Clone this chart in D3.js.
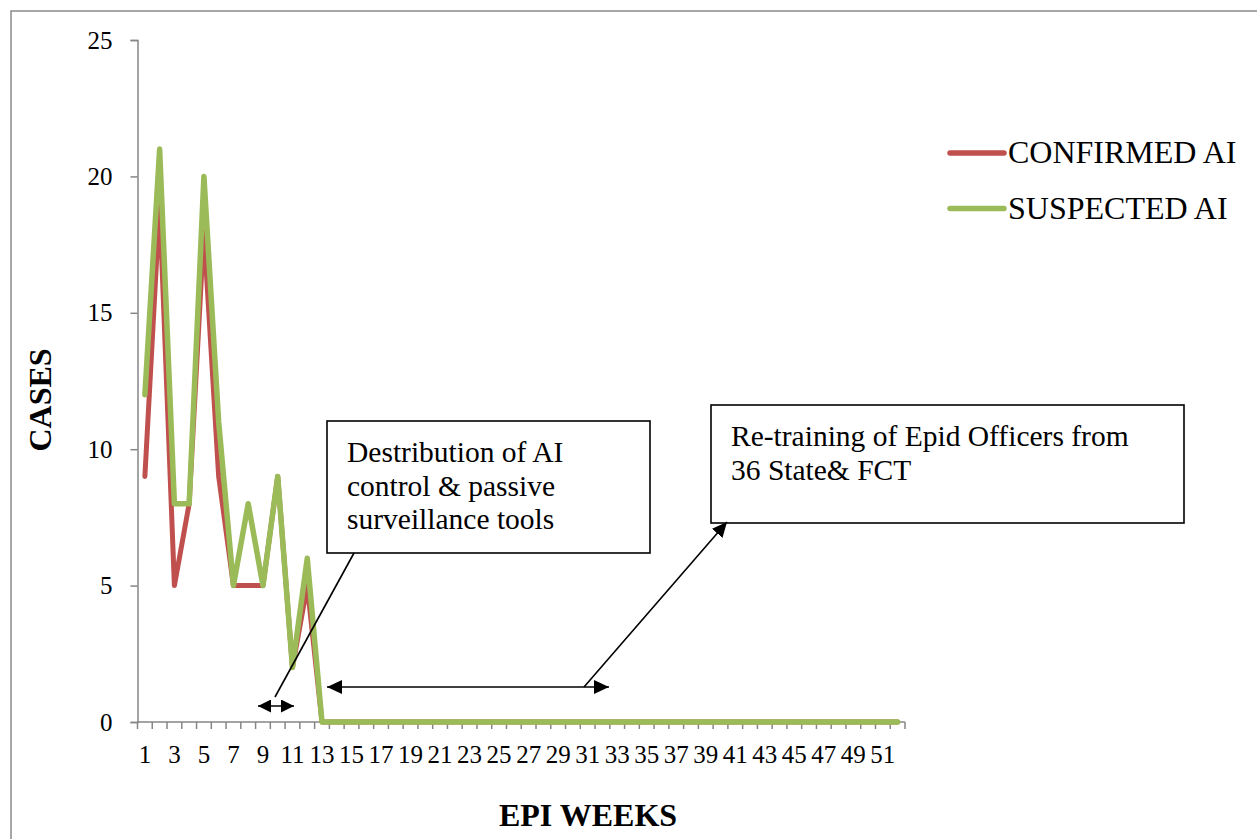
<!DOCTYPE html>
<html><head><meta charset="utf-8">
<script src="https://cdn.jsdelivr.net/npm/d3@7"></script>
<style>
html,body{margin:0;padding:0;background:#fff;}
svg{display:block;}
text{font-family:"Liberation Serif","Times New Roman",serif;fill:#000;}
</style></head>
<body>
<script>
const weeks = d3.range(1, 53);
const confirmed = [9,19,5,8,18,9,5,5,5,9,2,5,0,0,0,0,0,0,0,0,0,0,0,0,0,0,0,0,0,0,0,0,0,0,0,0,0,0,0,0,0,0,0,0,0,0,0,0,0,0,0,0];
const suspected = [12,21,8,8,20,11,5,8,5,9,2,6,0,0,0,0,0,0,0,0,0,0,0,0,0,0,0,0,0,0,0,0,0,0,0,0,0,0,0,0,0,0,0,0,0,0,0,0,0,0,0,0];
const yTicks = [0,5,10,15,20,25];
const seriesNames = ["CONFIRMED AI","SUSPECTED AI"];
const seriesColors = ["#C0504D","#9BBB59"];
const xTitle = "EPI WEEKS";
const yTitle = "CASES";
const note1 = ["Destribution of AI","control & passive","surveillance tools"];
const note2 = ["Re-training of Epid Officers from","36 State& FCT"];

const W = 1257, H = 839;
const svg = d3.select("body").append("svg").attr("width", W).attr("height", H);

// outer frame
svg.append("path").attr("d", "M11,839 V11 H1257").attr("fill","none").attr("stroke","#8a8a8a").attr("stroke-width",1.5);

const pLeft = 137.5, pRight = 905, pTop = 40, pBottom = 722;
const x = d3.scaleLinear().domain([0.5, 52.5]).range([pLeft, pRight]);
const y = d3.scaleLinear().domain([0, 25]).range([pBottom, pTop]);
const axisColor = "#868686";

// y axis
const yAxis = svg.append("g").attr("transform", `translate(${pLeft},0)`)
  .call(d3.axisLeft(y).tickValues(yTicks).tickSize(7).tickPadding(18).tickFormat(d3.format("d")));
yAxis.select(".domain").attr("stroke", axisColor).attr("stroke-width", 1.5);
yAxis.selectAll(".tick line").attr("stroke", axisColor).attr("stroke-width", 1.5);
yAxis.selectAll("text").style("font-size","25px").attr("fill","#000");

// x axis: ticks at category boundaries, labels at odd weeks
const xg = svg.append("g").attr("transform", `translate(0,${pBottom})`);
xg.append("line").attr("x1", pLeft).attr("x2", pRight).attr("stroke", axisColor).attr("stroke-width", 1.5);
const bounds = d3.range(0, 53).map(i => i + 0.5);
xg.selectAll("line.tk").data(bounds).join("line").attr("class","tk")
  .attr("x1", d => x(d)).attr("x2", d => x(d)).attr("y1", 0).attr("y2", 7)
  .attr("stroke", axisColor).attr("stroke-width", 1.5);
xg.selectAll("text").data(weeks.filter(w => w % 2 === 1)).join("text")
  .attr("x", d => x(d)).attr("y", 41).attr("text-anchor","middle")
  .style("font-size","25px").text(d => d);

// lines
const line = d3.line().x((d,i) => x(weeks[i])).y(d => y(d));
[confirmed, suspected].forEach((s, k) => {
  svg.append("path").datum(s).attr("d", line).attr("fill","none")
    .attr("stroke", seriesColors[k]).attr("stroke-width", k ? 5.5 : 5)
    .attr("stroke-linejoin","round").attr("stroke-linecap","round");
});

// axis titles
svg.append("text").attr("transform","translate(51,400) rotate(-90)").attr("text-anchor","middle")
  .style("font-size","32px").style("font-weight","bold").text(yTitle);
svg.append("text").attr("x", 588).attr("y", 826).attr("text-anchor","middle")
  .style("font-size","32px").style("font-weight","bold").text(xTitle);

// legend
seriesNames.forEach((n, k) => {
  const ly = 153 + k * 55.5;
  svg.append("line").attr("x1", 950).attr("x2", 1004).attr("y1", ly).attr("y2", ly)
    .attr("stroke", seriesColors[k]).attr("stroke-width", 5.5).attr("stroke-linecap","round");
  svg.append("text").attr("x", 1008).attr("y", ly + 10).style("font-size","32px").text(n);
});

// annotations
const defs = svg.append("defs");
function marker(id, w, h) {
  defs.append("marker").attr("id", id).attr("viewBox", `0 0 ${w} ${h}`)
    .attr("refX", w).attr("refY", h/2).attr("markerWidth", w).attr("markerHeight", h)
    .attr("markerUnits","userSpaceOnUse").attr("orient","auto-start-reverse")
    .append("path").attr("d", `M0,0 L${w},${h/2} L0,${h} Z`).attr("fill","#000");
}
marker("ah", 15, 14);
marker("ahs", 13, 13);

function box(x0, y0, x1, y1, lines, tx, ty, dy) {
  svg.append("rect").attr("x", x0).attr("y", y0).attr("width", x1 - x0).attr("height", y1 - y0)
    .attr("fill","#fff").attr("stroke","#000").attr("stroke-width",1.6);
  lines.forEach((t, i) => svg.append("text").attr("x", tx).attr("y", ty + i * dy).style("font-size","29.5px").text(t));
}
box(327, 421, 650, 553, note1, 347, 462, 33.5);
box(711, 405, 1184, 523, note2, 731, 446, 33.5);

// small double arrow + leader
svg.append("line").attr("x1", 258).attr("x2", 294).attr("y1", 706).attr("y2", 706)
  .attr("stroke","#000").attr("stroke-width",1.5).attr("marker-start","url(#ahs)").attr("marker-end","url(#ahs)");
svg.append("line").attr("x1", 275).attr("y1", 697).attr("x2", 354).attr("y2", 553)
  .attr("stroke","#000").attr("stroke-width",1.6);

// long double arrow + leader with arrow
svg.append("line").attr("x1", 327).attr("x2", 609).attr("y1", 687).attr("y2", 687)
  .attr("stroke","#000").attr("stroke-width",1.5).attr("marker-start","url(#ah)").attr("marker-end","url(#ah)");
svg.append("line").attr("x1", 584).attr("y1", 687).attr("x2", 727).attr("y2", 522)
  .attr("stroke","#000").attr("stroke-width",1.6).attr("marker-end","url(#ah)");
</script>
</body></html>
